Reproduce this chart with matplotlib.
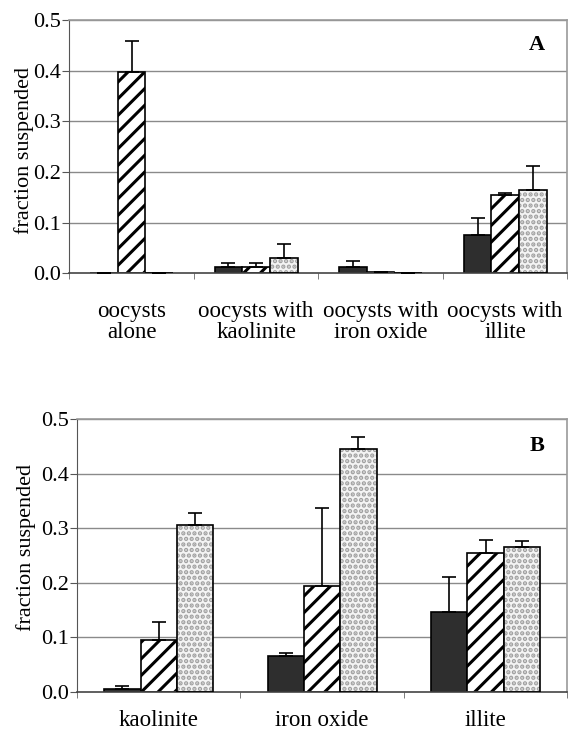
import matplotlib.pyplot as plt
import numpy as np

plt.rcParams['font.family'] = ['Liberation Serif', 'DejaVu Serif']
plt.rcParams['hatch.linewidth'] = 2.2

# panel A: oocysts alone / with clays
cats_a = ["oocysts\nalone", "oocysts with\nkaolinite", "oocysts with\niron oxide", "oocysts with\nillite"]
black_a = [0.0, 0.013, 0.013, 0.075]
black_a_top = [0.0, 0.020, 0.024, 0.109]
hatch_a = [0.398, 0.012, 0.003, 0.155]
hatch_a_top = [0.459, 0.020, 0.003, 0.158]
dots_a = [0.0, 0.030, 0.001, 0.164]
dots_a_top = [0.0, 0.059, 0.001, 0.212]

# panel B: clays alone
cats_b = ["kaolinite", "iron oxide", "illite"]
black_b = [0.005, 0.066, 0.147]
black_b_top = [0.011, 0.071, 0.210]
hatch_b = [0.094, 0.194, 0.255]
hatch_b_top = [0.128, 0.337, 0.278]
dots_b = [0.305, 0.445, 0.266]
dots_b_top = [0.327, 0.467, 0.277]

W = 0.222


def errs(v, top):
    v = np.array(v)
    return [np.zeros_like(v), np.array(top) - v]


def panel(ax, cats, series, letter, ylab_x, ylab_y):
    x = np.arange(len(cats))
    for gy in np.arange(0.1, 0.51, 0.1):
        ax.axhline(gy, color='#8a8a8a', lw=1.0, zorder=0)
    (bk, bkt), (hs, hst), (dt, dtt) = series
    ax.bar(x - W, bk, W, color='#2e2e2e', edgecolor='black', lw=1.2, zorder=2)
    ax.bar(x, hs, W, color='white', edgecolor='black', hatch='//', lw=1.2, zorder=2)
    ax.bar(x + W, dt, W, color='#f4f4f4', edgecolor='#a0a0a0', hatch='...', lw=0, zorder=2)
    ax.bar(x + W, dt, W, fill=False, edgecolor='black', lw=1.2, zorder=3)
    for off, v, t in [(-W, bk, bkt), (0, hs, hst), (W, dt, dtt)]:
        ax.errorbar(x + off, v, yerr=errs(v, t), fmt='none', ecolor='black',
                    elinewidth=1.2, capsize=5, capthick=1.2, zorder=4)
    ax.set_xlim(-0.5, len(cats) - 0.5)
    ax.set_ylim(0, 0.5)
    ax.set_yticks(np.arange(0, 0.51, 0.1))
    ax.set_yticklabels(['%.1f' % v for v in np.arange(0, 0.51, 0.1)], fontsize=16)
    ax.set_xticks(x)
    ax.set_xticklabels(cats, fontsize=16.5, linespacing=1.0)
    ax.set_xticks(np.arange(-0.5, len(cats), 1.0), minor=True)
    ax.tick_params(axis='x', which='major', length=0, pad=20)
    ax.tick_params(axis='x', which='minor', length=4, color='#666666', direction='out')
    ax.tick_params(axis='y', length=5, color='#555555', pad=1)
    for s in ['top', 'right']:
        ax.spines[s].set_color('#9a9a9a')
        ax.spines[s].set_linewidth(1.2)
    ax.spines['left'].set_color('#555555')
    ax.spines['bottom'].set_color('#444444')
    ax.spines['bottom'].set_linewidth(1.2)
    ax.set_ylabel('fraction suspended', fontsize=16)
    ax.yaxis.set_label_coords(ylab_x, ylab_y)
    ax.text(0.938, 0.9, letter, transform=ax.transAxes, fontsize=16,
            fontweight='bold', ha='center', va='center')


fig = plt.figure(figsize=(5.82, 7.32), dpi=100)
ax1 = fig.add_axes([0.119, 0.6264, 0.856, 0.3463])
ax2 = fig.add_axes([0.1323, 0.0551, 0.8424, 0.3725])

panel(ax1, cats_a, [(black_a, black_a_top), (hatch_a, hatch_a_top), (dots_a, dots_a_top)],
      'A', -0.071, 0.487)
panel(ax2, cats_b, [(black_b, black_b_top), (hatch_b, hatch_b_top), (dots_b, dots_b_top)],
      'B', -0.084, 0.53)
ax2.tick_params(axis='x', which='major', pad=13)

fig.savefig('out.png', dpi=100)
